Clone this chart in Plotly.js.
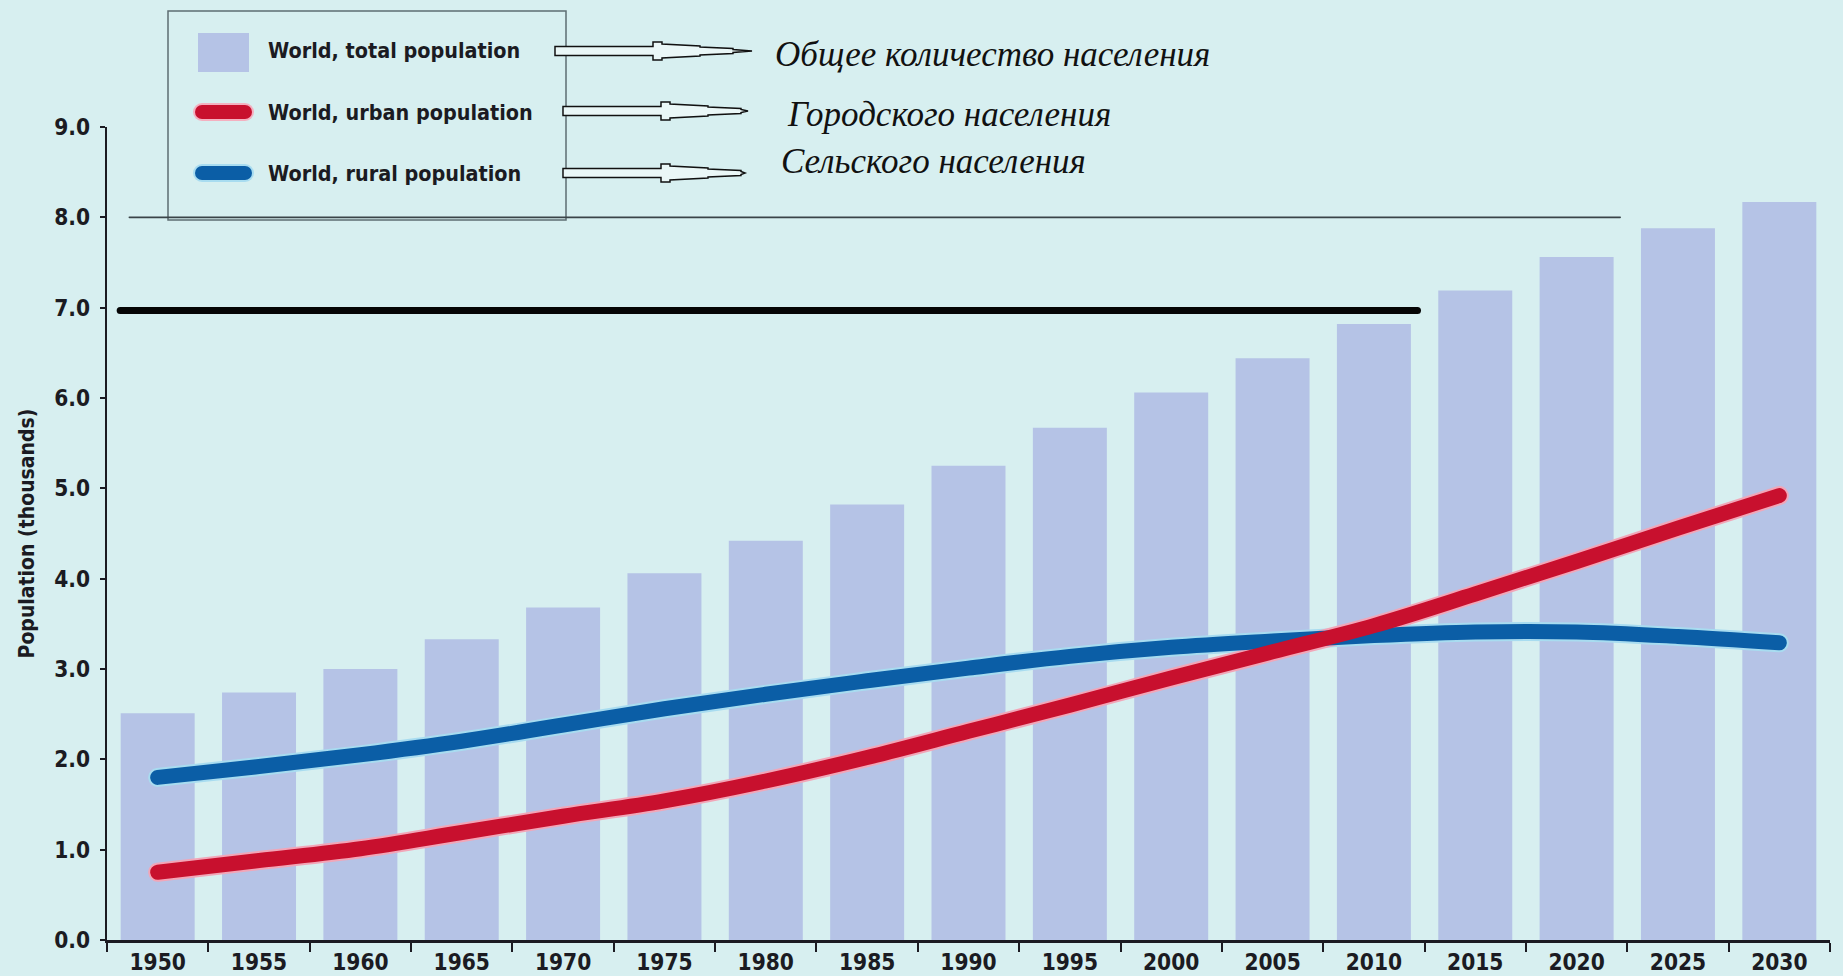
<!DOCTYPE html>
<html>
<head>
<meta charset="utf-8">
<script src="https://cdn.plot.ly/plotly-3.0.1.min.js"></script>
<style>
html,body{margin:0;padding:0;background:#d7eff0;}
#chart{width:1843px;height:976px;}
</style>
</head>
<body>
<div id="chart"></div>
<script>
// ---- data ----
const years = ['1950','1955','1960','1965','1970','1975','1980','1985','1990','1995','2000','2005','2010','2015','2020','2025','2030'];
const totalPop = [2.51,2.74,3.00,3.33,3.68,4.06,4.42,4.82,5.25,5.67,6.06,6.44,6.82,7.19,7.56,7.88,8.17];
const urbanPop = [0.75,0.88,1.01,1.19,1.37,1.54,1.76,2.02,2.31,2.60,2.90,3.19,3.48,3.83,4.19,4.56,4.92];
const ruralPop = [1.80,1.92,2.05,2.20,2.38,2.56,2.72,2.87,3.01,3.14,3.24,3.31,3.37,3.41,3.41,3.36,3.29];
const yTicks = [0,1,2,3,4,5,6,7,8,9];
const legendLabels = ['World, total population','World, urban population','World, rural population'];
const russianLabels = ['Общее количество населения','Городского населения','Сельского населения'];
const yTitle = 'Population (thousands)';

// ---- layout helpers (pixel -> paper) ----
const W = 1843, H = 976;
const M = {l:107, r:13, t:127, b:36};
const PW = W - M.l - M.r, PH = H - M.t - M.b;
const px = x => (x - M.l) / PW;
const py = y => (H - M.b - y) / PH;

const colBar = '#b5c3e6';
const colRed = '#c8102e';
const colBlue = '#0b5ea6';
const sansFam = '"Liberation Sans Narrow", "DejaVu Sans Condensed", sans-serif';
const tickFont = {family:sansFam, size:22.5, color:'#1b1b22', weight:700};

const traces = [
  {type:'bar', x:years, y:totalPop, marker:{color:colBar}, hoverinfo:'x+y', showlegend:false},
  {type:'scatter', mode:'lines', x:years, y:ruralPop, line:{color:'#a8dcf0', width:19, shape:'spline', smoothing:1}, showlegend:false, hoverinfo:'skip'},
  {type:'scatter', mode:'lines', x:years, y:urbanPop, line:{color:'#f2a6b8', width:19, shape:'spline', smoothing:1}, showlegend:false, hoverinfo:'skip'},
  {type:'scatter', mode:'lines', x:years, y:ruralPop, line:{color:colBlue, width:15, shape:'spline', smoothing:1}, showlegend:false},
  {type:'scatter', mode:'lines', x:years, y:urbanPop, line:{color:colRed, width:15, shape:'spline', smoothing:1}, showlegend:false}
];

// arrow outline path in pixel coordinates
function arrowPath(x0, x1, yc){
  const pts = [
    [x0, yc-4.5],[x0+98, yc-4.5],[x0+98, yc-9],[x0+107, yc-9],[x0+107, yc-7],
    [x0+145, yc-5],[x0+145, yc-4],[x0+178, yc-2.5],[x0+178, yc-1.5],[x1, yc],
    [x0+178, yc+1.5],[x0+178, yc+2.5],[x0+145, yc+4],[x0+145, yc+5],
    [x0+107, yc+7],[x0+107, yc+9],[x0+98, yc+9],[x0+98, yc+4.5],[x0, yc+4.5]
  ];
  return 'M' + pts.map(p => px(p[0]).toFixed(5)+','+py(p[1]).toFixed(5)).join(' L') + ' Z';
}

const shapes = [
  // legend box
  {type:'rect', xref:'paper', yref:'paper', x0:px(168), x1:px(566), y0:py(220), y1:py(11), line:{color:'#5e6e72', width:1.5}, fillcolor:'rgba(0,0,0,0)', layer:'above'},
  // thin line at 8.0
  {type:'line', xref:'x', yref:'y', x0:-0.28, x1:14.43, y0:8, y1:8, line:{color:'#3a4448', width:1.6}, layer:'above'},
  // thick black line at 7.0
  {type:'line', xref:'x', yref:'y', x0:-0.37, x1:12.43, y0:6.97, y1:6.97, line:{color:'#050505', width:7}, layer:'above'},
  // legend swatches
  {type:'rect', xref:'paper', yref:'paper', x0:px(198), x1:px(249), y0:py(72), y1:py(33), line:{width:0}, fillcolor:colBar, layer:'above'},
  {type:'line', xref:'paper', yref:'paper', x0:px(202), x1:px(245), y0:py(112), y1:py(112), line:{color:'#f4b0c0', width:18}, layer:'above'},
  {type:'line', xref:'paper', yref:'paper', x0:px(202), x1:px(245), y0:py(112), y1:py(112), line:{color:colRed, width:14}, layer:'above'},
  {type:'line', xref:'paper', yref:'paper', x0:px(202), x1:px(245), y0:py(173), y1:py(173), line:{color:'#a8dcf0', width:18}, layer:'above'},
  {type:'line', xref:'paper', yref:'paper', x0:px(202), x1:px(245), y0:py(173), y1:py(173), line:{color:colBlue, width:14}, layer:'above'},
  // arrows
  {type:'path', xref:'paper', yref:'paper', path:arrowPath(555, 752, 51), line:{color:'#111', width:1.5}, fillcolor:'#eaf7f7', layer:'above'},
  {type:'path', xref:'paper', yref:'paper', path:arrowPath(563, 748, 111), line:{color:'#111', width:1.5}, fillcolor:'#eaf7f7', layer:'above'},
  {type:'path', xref:'paper', yref:'paper', path:arrowPath(563, 745, 173), line:{color:'#111', width:1.5}, fillcolor:'#eaf7f7', layer:'above'}
];

const legFont = {family:sansFam, size:21.4, color:'#1b1b22', weight:700};
const ruFont = {family:'"Liberation Serif", "DejaVu Serif", serif', size:35, color:'#111', style:'italic'};
const legY = [51, 112, 173];
const ruPos = [[773, 54], [785, 115], [779, 162]];
const annotations = [];
legendLabels.forEach((t,i) => annotations.push({xref:'paper', yref:'paper', x:px(266), y:py(legY[i]), xanchor:'left', yanchor:'middle', text:t, showarrow:false, font:legFont}));
russianLabels.forEach((t,i) => annotations.push({xref:'paper', yref:'paper', x:px(ruPos[i][0]), y:py(ruPos[i][1]), xanchor:'left', yanchor:'middle', text:t, showarrow:false, font:ruFont}));

const layout = {
  width:W, height:H,
  margin:M,
  paper_bgcolor:'#d7eff0',
  plot_bgcolor:'#d7eff0',
  bargap:0.27,
  showlegend:false,
  xaxis:{
    type:'category', range:[-0.5,16.5], tickson:'boundaries', ticks:'outside', ticklen:9, tickwidth:2, tickcolor:'#1b1b22',
    showline:true, linecolor:'#1b1b22', linewidth:2.5, showgrid:false, zeroline:false,
    tickfont:tickFont, fixedrange:true, automargin:false
  },
  yaxis:{
    range:[0,9], tickvals:yTicks, tickformat:'.1f', ticks:'outside', ticklen:5, tickwidth:2, tickcolor:'#1b1b22',
    showline:true, linecolor:'#1b1b22', linewidth:2.5, showgrid:false, zeroline:false,
    tickfont:tickFont, ticklabelstandoff:5, automargin:false,
    title:{text:yTitle, font:{family:sansFam, size:21, color:'#1b1b22', weight:700}, standoff:14}
  },
  shapes:shapes,
  annotations:annotations
};

Plotly.newPlot('chart', traces, layout, {displayModeBar:false, staticPlot:true}).then(() => {
  document.querySelectorAll('.scatterlayer path.js-line').forEach(p => { p.style.strokeLinecap = 'round'; p.style.strokeLinejoin = 'round'; });
  document.querySelectorAll('.shapelayer path').forEach(p => { if (!p.getAttribute('d').includes('Z')) p.style.strokeLinecap = 'round'; });
});
</script>
</body>
</html>
